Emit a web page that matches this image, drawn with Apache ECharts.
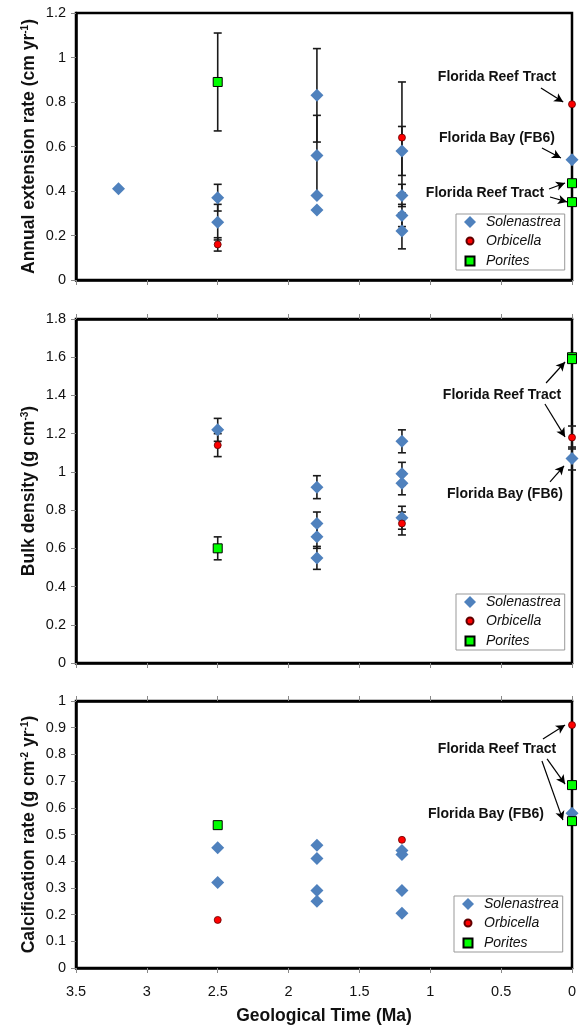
<!DOCTYPE html>
<html><head><meta charset="utf-8">
<script src="https://cdn.jsdelivr.net/npm/echarts@6/dist/echarts.min.js"></script>
<style>html,body{margin:0;padding:0;background:#fff}#c{width:587px;height:1027px}</style>
</head><body><div id="c"></div>
<script>
// ---------------- DATA ----------------
const speciesNames = ['Solenastrea', 'Orbicella', 'Porites'];
const xTickValues = [3.5, 3, 2.5, 2, 1.5, 1, 0.5, 0];   // Geological time (Ma)
// [age (Ma), value, ± error (null = none)]
// Annual extension rate (cm yr-1)
const extSolenastrea = [[3.2,0.41,null],[2.5,0.37,0.06],[2.5,0.26,0.08],[1.8,0.83,0.21],[1.8,0.56,0.18],[1.8,0.38,null],[1.8,0.315,null],[1.2,0.58,0.11],[1.2,0.38,0.05],[1.2,0.29,0.05],[1.2,0.22,0.08],[0,0.54,null]];
const extOrbicella   = [[2.5,0.16,0.03],[1.2,0.64,0.25],[0,0.79,null]];
const extPorites     = [[2.5,0.89,0.22],[0,0.435,null],[0,0.35,null]];
// Bulk density (g cm-3)
const denSolenastrea = [[2.5,1.22,0.06],[1.8,0.92,0.06],[1.8,0.73,0.06],[1.8,0.66,0.06],[1.8,0.55,0.06],[1.2,1.16,0.06],[1.2,0.99,0.06],[1.2,0.94,0.06],[1.2,0.76,0.06],[0,1.07,0.06]];
const denOrbicella   = [[2.5,1.14,0.06],[1.2,0.73,0.06],[0,1.18,0.06]];
const denPorites     = [[2.5,0.60,0.06],[0,1.60,null],[0,1.59,null]];
// Calcification rate (g cm-2 yr-1)
const calSolenastrea = [[2.5,0.45,null],[2.5,0.32,null],[1.8,0.46,null],[1.8,0.41,null],[1.8,0.29,null],[1.8,0.25,null],[1.2,0.44,null],[1.2,0.425,null],[1.2,0.29,null],[1.2,0.205,null],[0,0.58,null]];
const calOrbicella   = [[2.5,0.18,null],[1.2,0.48,null],[0,0.91,null]];
const calPorites     = [[2.5,0.535,null],[0,0.685,null],[0,0.55,null]];
// Annotation texts
const reefLabel = 'Florida Reef Tract';
const bayLabel = 'Florida Bay (FB6)';

// ---------------- CHART ----------------
const FONT = '"Liberation Sans", Arial, sans-serif';
const panels = [
  {sol: extSolenastrea, orb: extOrbicella, por: extPorites, max: 1.2, interval: 0.2,
   name: 'Annual extension rate (cm yr{sup|-1})',
   arrows: [[[0.219,0.863],[0.062,0.80]], [[0.212,0.593],[0.078,0.548]], [[0.162,0.409],[0.049,0.436]], [[0.155,0.373],[0.035,0.351]]]},
  {sol: denSolenastrea, orb: denOrbicella, por: denPorites, max: 1.8, interval: 0.2,
   name: 'Bulk density (g cm{sup|-3})',
   arrows: [[[0.183,1.465],[0.049,1.575]], [[0.191,1.355],[0.049,1.183]], [[0.155,0.948],[0.056,1.032]]]},
  {sol: calSolenastrea, orb: calOrbicella, por: calPorites, max: 1, interval: 0.1,
   name: 'Calcification rate (g cm{sup|-2} yr{sup|-1})',
   arrows: [[[0.205,0.858],[0.049,0.91]], [[0.176,0.783],[0.049,0.689]], [[0.212,0.775],[0.064,0.554]]]}
];
const gridBoxes = [{top: 13, height: 267}, {top: 319, height: 344}, {top: 701, height: 267}];

function errRender(params, api) {
  const err = api.value(2);
  if (err == null || isNaN(err) || err <= 0) return;
  const x = api.value(0), y = api.value(1);
  const t = api.coord([x, y + err]);
  const b = api.coord([x, y - err]);
  const hw = 4;
  const st = {stroke: '#1a1a1a', lineWidth: 1.6};
  return {type: 'group', children: [
    {type: 'line', shape: {x1: t[0], y1: t[1], x2: b[0], y2: b[1]}, style: st},
    {type: 'line', shape: {x1: t[0]-hw, y1: t[1], x2: t[0]+hw, y2: t[1]}, style: st},
    {type: 'line', shape: {x1: b[0]-hw, y1: b[1], x2: b[0]+hw, y2: b[1]}, style: st}
  ]};
}

const grids = [], xAxes = [], yAxes = [], series = [], legends = [];
const legendTops = [214, 594, 896];
const legendLefts = [456, 456, 454];

panels.forEach((p, i) => {
  grids.push({left: 76, width: 496, top: gridBoxes[i].top, height: gridBoxes[i].height,
    show: true, borderColor: '#000', borderWidth: 2.5, backgroundColor: 'transparent', containLabel: false});
  xAxes.push({
    gridIndex: i, type: 'value', min: 0, max: 3.5, interval: 0.5, inverse: true, position: 'bottom',
    axisLine: {show: true, onZero: false, lineStyle: {color: '#000', width: 2.5}},
    axisTick: {show: true, inside: false, length: 5, lineStyle: {color: '#888', width: 1}},
    splitLine: {show: false},
    axisLabel: {show: i === 2, margin: 16, fontFamily: FONT, fontSize: 14.5, color: '#111'},
    name: i === 2 ? 'Geological Time (Ma)' : '', nameLocation: 'middle', nameGap: 39, nameMoveOverlap: false,
    nameTextStyle: {fontFamily: FONT, fontWeight: 'bold', fontSize: 17.5, color: '#111'}
  });
  yAxes.push({
    gridIndex: i, type: 'value', min: 0, max: p.max, interval: p.interval,
    axisLine: {show: true, onZero: false, lineStyle: {color: '#000', width: 2.5}},
    axisTick: {show: true, inside: false, length: 5, lineStyle: {color: '#888', width: 1}},
    splitLine: {show: false},
    axisLabel: {margin: 10, fontFamily: FONT, fontSize: 14.5, color: '#111'},
    name: p.name, nameLocation: 'middle', nameGap: 38, nameMoveOverlap: false,
    nameTextStyle: {fontFamily: FONT, fontWeight: 'bold', fontSize: 17.5, color: '#111',
      rich: {sup: {fontFamily: FONT, fontWeight: 'bold', fontSize: 10, color: '#111', verticalAlign: 'top'}}}
  });
  const pick = d => d.map(r => [r[0], r[1]]);
  series.push({
    type: 'custom', name: 'errors' + i, xAxisIndex: i, yAxisIndex: i, z: 2, silent: true,
    renderItem: errRender, encode: {x: 0, y: 1},
    data: [...p.sol, ...p.orb, ...p.por].filter(r => r[2] != null)
  });
  series.push({
    type: 'scatter', name: speciesNames[0], xAxisIndex: i, yAxisIndex: i, z: 3,
    symbol: 'diamond', symbolSize: 13, itemStyle: {color: '#4F81BD', opacity: 1},
    data: pick(p.sol),
    markLine: {silent: true, animation: false, symbol: ['none', 'arrow'], symbolSize: [7, 9], precision: 4,
      lineStyle: {color: '#000', width: 1.2, type: 'solid'}, label: {show: false}, emphasis: {disabled: true},
      data: p.arrows.map(a => [{coord: a[0]}, {coord: a[1]}])}
  });
  series.push({
    type: 'scatter', name: speciesNames[1], xAxisIndex: i, yAxisIndex: i, z: 4,
    symbol: 'circle', symbolSize: 7, itemStyle: {color: '#FF0000', borderColor: '#600000', borderWidth: 0.8, opacity: 1},
    data: pick(p.orb)
  });
  series.push({
    type: 'scatter', name: speciesNames[2], xAxisIndex: i, yAxisIndex: i, z: 5,
    symbol: 'rect', symbolSize: 9, itemStyle: {color: '#00FF00', borderColor: '#000', borderWidth: 1, opacity: 1},
    data: pick(p.por)
  });
  legends.push({
    left: legendLefts[i], top: legendTops[i], orient: 'vertical', itemGap: 4,
    itemWidth: 14, itemHeight: 14, padding: [1, 4, 1, 6],
    borderColor: '#999', borderWidth: 1, backgroundColor: '#fff', selectedMode: false,
    textStyle: {fontFamily: FONT, fontStyle: 'italic', fontSize: 14, color: '#111', padding: [0, 0, 0, 4]},
    data: [
      {name: speciesNames[0], icon: 'path://M0,0M14,14M7,1L13,7L7,13L1,7Z'},
      {name: speciesNames[1], icon: 'path://M0,0M14,14M3.5,7A3.5,3.5,0,1,1,10.5,7A3.5,3.5,0,1,1,3.5,7Z'},
      {name: speciesNames[2], icon: 'path://M0,0M14,14M2.5,2.5L11.5,2.5L11.5,11.5L2.5,11.5Z'}
    ]
  });
});
// top tick axes for panels 2 and 3
[1, 2].forEach(i => {
  xAxes.push({
    gridIndex: i, type: 'value', min: 0, max: 3.5, interval: 0.5, inverse: true, position: 'top',
    axisLine: {show: true, onZero: false, lineStyle: {color: '#000', width: 2.5}},
    axisTick: {show: true, inside: false, length: 5, lineStyle: {color: '#888', width: 1}},
    splitLine: {show: false}, axisLabel: {show: false}
  });
});

const annot = [
  [reefLabel, 497, 77], [bayLabel, 497, 138], [reefLabel, 485, 193],
  [reefLabel, 502, 395], [bayLabel, 505, 494],
  [reefLabel, 497, 749], [bayLabel, 486, 814]
];

const chart = echarts.init(document.getElementById('c'), null, {renderer: 'canvas'});
chart.setOption({
  animation: false,
  backgroundColor: '#fff',
  grid: grids, xAxis: xAxes, yAxis: yAxes, legend: legends, series: series,
  graphic: annot.map(a => ({type: 'text', x: a[1], y: a[2], z: 100, silent: true,
    style: {text: a[0], font: 'bold 14px ' + FONT, fill: '#111',
      textAlign: 'center', textVerticalAlign: 'middle', align: 'center', verticalAlign: 'middle'}}))
});
</script>
</body></html>
